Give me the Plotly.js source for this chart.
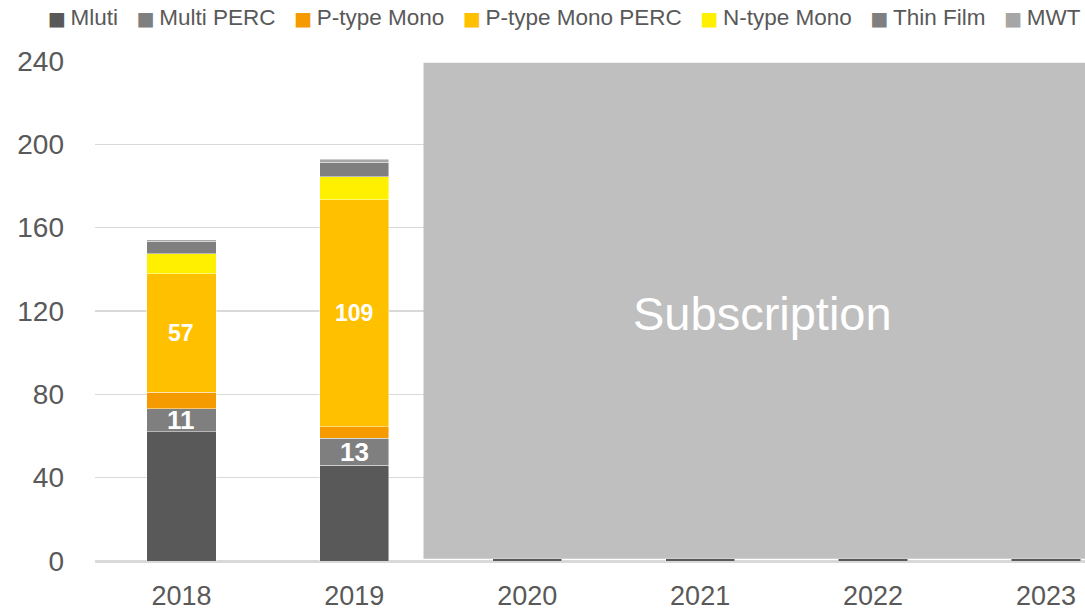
<!DOCTYPE html>
<html>
<head>
<meta charset="utf-8">
<script src="https://cdn.plot.ly/plotly-3.0.1.min.js"></script>
<style>html,body{margin:0;padding:0;background:#fff;}#chart{width:1085px;height:610px;}</style>
</head>
<body>
<div id="chart"></div>
<script>
const years = ['2018', '2019', '2020', '2021', '2022', '2023'];
const mluti = [62, 46, 1, 1, 1, 1];
const multiPerc = [11, 13, null, null, null, null];
const pTypeMono = [8, 5.5, null, null, null, null];
const pTypeMonoPerc = [57, 109, null, null, null, null];
const nTypeMono = [9.5, 11, null, null, null, null];
const thinFilm = [6, 7, null, null, null, null];
const mwt = [0.8, 1.3, null, null, null, null];
const overlayText = 'Subscription';

const font = '"Liberation Sans", Arial, sans-serif';
const series = [
  {name: 'Mluti', y: mluti, color: '#595959'},
  {name: 'Multi PERC', y: multiPerc, color: '#7F7F7F'},
  {name: 'P-type Mono', y: pTypeMono, color: '#F59B00'},
  {name: 'P-type Mono PERC', y: pTypeMonoPerc, color: '#FFC000'},
  {name: 'N-type Mono', y: nTypeMono, color: '#FFF000'},
  {name: 'Thin Film', y: thinFilm, color: '#7F7F7F'},
  {name: 'MWT', y: mwt, color: '#A6A6A6'}
];

const traces = series.map(s => ({
  type: 'bar', name: s.name, x: years, y: s.y,
  marker: {color: s.color, line: {color: 'rgba(255,255,255,0.6)', width: 0.75}},
  width: 0.4, hoverinfo: 'x+y+name'
}));

// data labels centered inside segments
const annotations = [];
function addLabels(idx, size) {
  for (let i = 0; i < 2; i++) {
    let base = 0;
    for (let k = 0; k < idx; k++) base += (series[k].y[i] || 0);
    const v = series[idx].y[i];
    annotations.push({
      x: i, y: base + v / 2, xref: 'x', yref: 'y', text: '<b>' + v + '</b>',
      showarrow: false, font: {family: font, size: size, color: '#FFFFFF'}
    });
  }
}
addLabels(1, 26);
addLabels(3, 23);

annotations.push({
  x: 3.36, y: 119, xref: 'x', yref: 'y', text: overlayText, showarrow: false,
  font: {family: font, size: 47, color: '#FFFFFF'}
});

// legend row built from series names and colours
const gap = '\u00A0\u00A0\u00A0';
const legendText = series.map(s =>
  '<span style="color:' + s.color + ';font-family:DejaVu Sans;font-size:19px">\u25A0</span>\u2009' + s.name.replace(/ /g, '\u00A0')
).join(gap);
annotations.push({
  x: 0.474, y: 1.086, xref: 'paper', yref: 'paper', xanchor: 'center', yanchor: 'middle',
  text: legendText, showarrow: false,
  font: {family: font, size: 22.5, color: '#595959'}
});

const layout = {
  width: 1085, height: 610,
  margin: {l: 95, r: 0, t: 61, b: 49},
  barmode: 'stack',
  paper_bgcolor: '#FFFFFF', plot_bgcolor: '#FFFFFF',
  font: {family: font, color: '#595959'},
  showlegend: false,
  xaxis: {
    type: 'category', range: [-0.5, 5.226],
    showgrid: false, zeroline: false, showline: true, linecolor: '#D9D9D9', linewidth: 1.5,
    ticks: '', tickfont: {family: font, size: 27, color: '#595959'}, ticklabelstandoff: 10,
    fixedrange: true
  },
  yaxis: {
    range: [0, 240], dtick: 40, tick0: 0,
    showgrid: true, gridcolor: '#D9D9D9', gridwidth: 1.5,
    zeroline: true, zerolinecolor: '#D9D9D9', zerolinewidth: 1.5,
    showline: false, ticks: '',
    tickfont: {family: font, size: 28, color: '#595959'}, ticklabelstandoff: 30,
    fixedrange: true
  },
  shapes: [{
    type: 'rect', xref: 'x', yref: 'y', x0: 1.4, x1: 5.6, y0: 1.1, y1: 239.2,
    fillcolor: '#BFBFBF', line: {width: 0}, layer: 'above'
  }],
  annotations: annotations
};

Plotly.newPlot('chart', traces, layout, {displayModeBar: false, staticPlot: true});
</script>
</body>
</html>
